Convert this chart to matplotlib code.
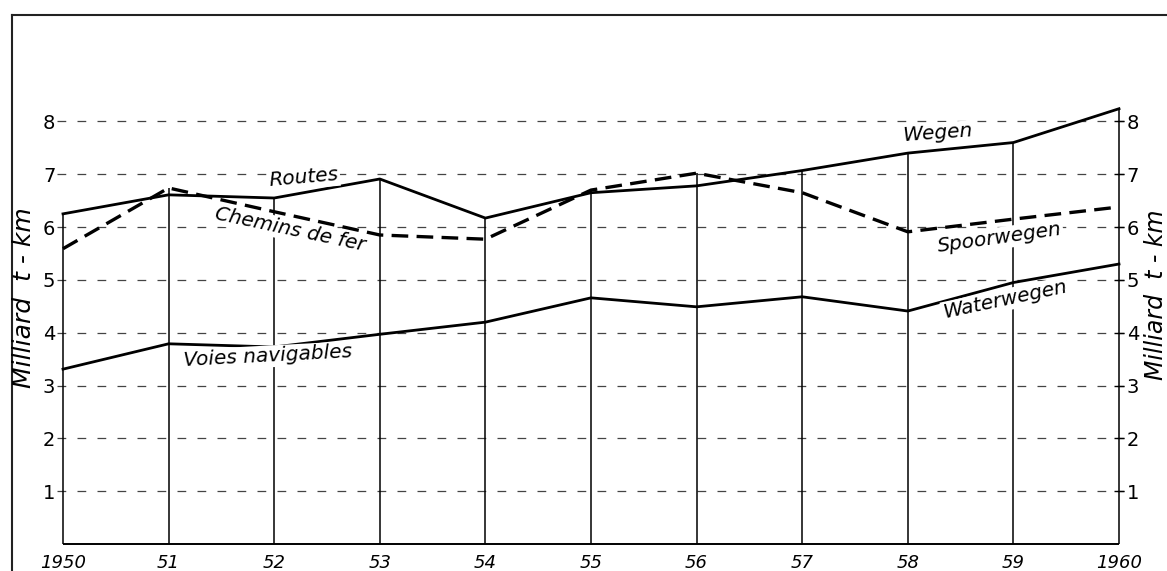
import numpy as np
import matplotlib.pyplot as plt
from matplotlib.lines import Line2D

years = [1950, 1951, 1952, 1953, 1954, 1955, 1956, 1957, 1958, 1959, 1960]
year_labels = ['1950', '51', '52', '53', '54', '55', '56', '57', '58', '59', '1960']

routes = [6.25, 6.61, 6.55, 6.91, 6.17, 6.65, 6.78, 7.07, 7.40, 7.60, 8.24]
rail = [5.59, 6.74, 6.29, 5.85, 5.77, 6.70, 7.02, 6.65, 5.91, 6.15, 6.38]
water = [3.31, 3.79, 3.73, 3.97, 4.20, 4.66, 4.49, 4.68, 4.41, 4.95, 5.30]

yticks = [1, 2, 3, 4, 5, 6, 7, 8]

narrow = ['Liberation Sans Narrow', 'DejaVu Sans']

W, H = 1167, 571
fig = plt.figure(figsize=(W / 100, H / 100), dpi=100)
ax = fig.add_axes([63 / W, 27 / H, 1056 / W, 449 / H])
ax.set_xlim(1950, 1960)
ax.set_ylim(0, 8.5)
for s in ax.spines.values():
    s.set_visible(False)

# dashed grid
ax.hlines(yticks, 1949.94, 1960.05, colors='#444444', linewidth=0.9,
          linestyles=(0, (7, 9)), clip_on=False, zorder=1)

# verticals up to the highest series
tops = np.maximum(np.maximum(routes, rail), water)
ax.vlines(years, 0, tops, colors='black', linewidth=1.1, zorder=2, clip_on=False)
ax.hlines(0, 1950, 1960, colors='black', linewidth=1.4, zorder=2, clip_on=False)

ax.plot(years, routes, color='black', linewidth=2.0, zorder=3, clip_on=False)
ax.plot(years, water, color='black', linewidth=2.0, zorder=3, clip_on=False)
ax.plot(years, rail, color='black', linewidth=2.4, linestyle=(0, (5, 2.5)), zorder=3,
        clip_on=False)

ax.set_xticks(years)
ax.set_xticklabels(year_labels, fontstyle='italic', fontsize=13)
ax.set_yticks(yticks)
ax.set_yticklabels([str(v) for v in yticks], fontsize=14, family=narrow)
ax.tick_params(axis='x', length=0, pad=7)
ax.tick_params(axis='y', left=False, right=True, labelleft=True,
               labelright=True, direction='inout', length=7, width=1, pad=2)

lbl = dict(fontstyle='italic', fontsize=14.5, color='black', ha='center', va='center',
           zorder=4, bbox=dict(facecolor='white', edgecolor='none', pad=1.0))
ax.text(1952.28, 6.93, 'Routes', rotation=5, **lbl)
ax.text(1952.15, 5.95, 'Chemins de fer', rotation=-12, **lbl)
ax.text(1951.94, 3.55, 'Voies navigables', rotation=3, **lbl)
ax.text(1958.28, 7.77, 'Wegen', rotation=4, **lbl)
ax.text(1958.87, 5.79, 'Spoorwegen', rotation=8, **lbl)
ax.text(1958.92, 4.62, 'Waterwegen', rotation=12, **lbl)

fig.text(24 / W, 1 - 298 / H, 'Milliard  t - km', rotation=90, fontstyle='italic',
         fontsize=18, ha='center', va='center')
fig.text(1156 / W, 1 - 295 / H, 'Milliard  t - km', rotation=90, fontstyle='italic',
         fontsize=17, ha='center', va='center')

# outer frame of the page
fig.add_artist(Line2D([12 / W, 1.0], [1 - 15 / H, 1 - 15 / H], color='#222222',
                      linewidth=1.5, transform=fig.transFigure))
fig.add_artist(Line2D([12 / W, 12 / W], [0, 1 - 15 / H], color='#222222',
                      linewidth=1.5, transform=fig.transFigure))

fig.savefig('out.png', dpi=100, facecolor='white')
